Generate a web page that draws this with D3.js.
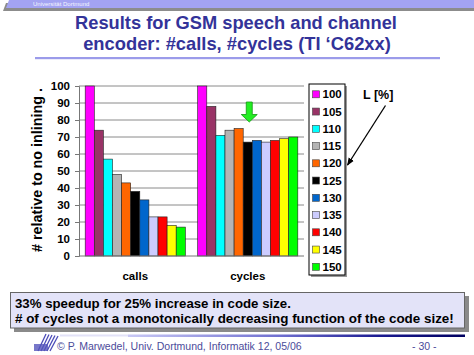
<!DOCTYPE html>
<html><head><meta charset="utf-8">
<script src="https://cdn.jsdelivr.net/npm/d3@7"></script>
<style>body{margin:0;background:#fff}svg{display:block}text{font-family:"Liberation Sans",Arial,sans-serif}</style>
</head><body>
<script>
const categories = ["calls", "cycles"];
const levels = ["100","105","110","115","120","125","130","135","140","145","150"];
const callsValues = [100, 74, 57, 48, 43, 38, 33, 23, 23, 18, 17];
const cyclesValues = [100, 88, 71, 74, 75, 67, 68, 67, 68, 69, 70];
const colors = ["#ff00ff","#993366","#00ffff","#b4b4b4","#ff6600","#000000","#0066cc","#ccccff","#ff0000","#ffff00","#00ff00"];
const yTicks = [0,10,20,30,40,50,60,70,80,90,100];
const titleLines = ["Results for GSM speech and channel", "encoder: #calls, #cycles (TI \u2018C62xx)"];
const noteLines = ["33% speedup for 25% increase in code size.", "# of cycles not a monotonically decreasing function of the code size!"];

const W = 474, H = 355;
const svg = d3.select("body").append("svg").attr("width", W).attr("height", H);

function fit(sel, target) {
  const w = sel.node().getComputedTextLength();
  const fs = parseFloat(sel.attr("font-size"));
  sel.attr("font-size", fs * target / w);
}

// header bar
svg.append("path").attr("d","M6,3 L474,3 L474,11 L3,11 Z").attr("fill","#8c8c8c");
svg.append("path").attr("d","M9,0 L474,0 L474,8 L6,8 Z").attr("fill","#a3a3f2");
svg.append("text").attr("x",33).attr("y",6.3).attr("font-size",6).attr("fill","#f4f4ff").text("Universit\u00e4t Dortmund");

// title
const t1 = svg.append("text").attr("x",236).attr("y",28.5).attr("text-anchor","middle").attr("font-size",19).attr("font-weight","bold").attr("fill","#333399").text(titleLines[0]);
fit(t1, 322);
const t2 = svg.append("text").attr("x",237).attr("y",49.5).attr("text-anchor","middle").attr("font-size",19).attr("font-weight","bold").attr("fill","#333399").text(titleLines[1]);
fit(t2, 308);
svg.append("rect").attr("x",35).attr("y",57).attr("width",405).attr("height",2.2).attr("fill","#9b9bea");

// chart
const plotL = 79, plotR = 304;
const y = d3.scaleLinear().domain([0,100]).range([256,86]);
const x0 = d3.scaleBand().domain(categories).range([plotL, plotR]);
const x1 = d3.scaleBand().domain(levels).range([0, x0.bandwidth()]).paddingOuter(0.68);

const g = svg.append("g");
g.selectAll("line.grid").data(yTicks.slice(1)).join("line")
  .attr("x1", plotL).attr("x2", plotR).attr("y1", d=>y(d)).attr("y2", d=>y(d))
  .attr("stroke","#8a8a8a").attr("stroke-width",1);

const series = [callsValues, cyclesValues];
categories.forEach((c, ci) => {
  g.append("g").attr("transform", `translate(${x0(c)},0)`)
    .selectAll("rect").data(levels).join("rect")
    .attr("x", l => x1(l)).attr("width", x1.bandwidth())
    .attr("y", (l,i) => y(series[ci][i])).attr("height", (l,i) => y(0) - y(series[ci][i]))
    .attr("fill", (l,i) => colors[i]).attr("stroke","#222").attr("stroke-width",0.6);
});

// axes
const yAxis = d3.axisLeft(y).tickValues(yTicks).tickSize(4).tickPadding(5);
const ya = svg.append("g").attr("transform",`translate(${plotL},0)`).call(yAxis);
ya.select(".domain").attr("stroke","#777");
ya.selectAll(".tick line").attr("stroke","#777");
ya.selectAll("text").attr("font-size",11.5).attr("font-weight","bold").attr("fill","#000").attr("font-family","Liberation Sans, Arial, sans-serif");
svg.append("line").attr("x1",plotL).attr("x2",plotR).attr("y1",y(0)).attr("y2",y(0)).attr("stroke","#777");

const xAxis = d3.axisBottom(x0).tickSize(0).tickPadding(15.5);
const xa = svg.append("g").attr("transform",`translate(0,${y(0)})`).call(xAxis);
xa.select(".domain").remove();
xa.selectAll("text").attr("font-size",11.5).attr("font-weight","bold").attr("fill","#000").attr("font-family","Liberation Sans, Arial, sans-serif");

const yt = svg.append("text").attr("transform","translate(41.5,170) rotate(-90)").attr("text-anchor","middle")
  .attr("font-size",12.5).attr("font-weight","bold").text("# relative to no inlining .");
fit(yt, 164);

// green arrow
const ax = x0("cycles") + x1("125") + x1.bandwidth()/2 + 1.5;
svg.append("path").attr("d", `M${ax-3},102 L${ax+3},102 L${ax+3},114.5 L${ax+8},114.5 L${ax},122 L${ax-8},114.5 L${ax-3},114.5 Z`)
  .attr("fill","#22ee22").attr("stroke","#119911").attr("stroke-width",0.8);

// legend
const lg = svg.append("g");
lg.append("rect").attr("x",311).attr("y",86).attr("width",36).attr("height",191).attr("fill","#999");
lg.append("rect").attr("x",309).attr("y",84).attr("width",36).attr("height",191).attr("fill","#fff").attr("stroke","#000").attr("stroke-width",1);
const ly = d3.scalePoint().domain(levels).range([94.3, 266.8]);
lg.selectAll("rect.sw").data(levels).join("rect").attr("class","sw")
  .attr("x",312.5).attr("y",l=>ly(l)-3.5).attr("width",7).attr("height",7)
  .attr("fill",(l,i)=>colors[i]).attr("stroke","#444").attr("stroke-width",0.6);
lg.selectAll("text").data(levels).join("text")
  .attr("x",322.5).attr("y",l=>ly(l)+4).attr("font-size",11.5).attr("font-weight","bold").text(l=>l);

// L [%] label + arrow
svg.append("text").attr("x",363).attr("y",98.5).attr("font-size",12.5).attr("font-weight","bold").text("L [%]");
svg.append("defs").append("marker").attr("id","ah").attr("viewBox","0 0 10 10").attr("refX",9).attr("refY",5)
  .attr("markerWidth",6).attr("markerHeight",6).attr("orient","auto")
  .append("path").attr("d","M0,1 L10,5 L0,9 Z").attr("fill","#000");
svg.append("line").attr("x1",385.5).attr("y1",105.5).attr("x2",347.5).attr("y2",165).attr("stroke","#000").attr("stroke-width",1.3).attr("marker-end","url(#ah)");

// note box
svg.append("rect").attr("x",14).attr("y",296).attr("width",455).attr("height",36).attr("fill","#8a8a8a");
svg.append("rect").attr("x",10.5).attr("y",292.5).attr("width",454).attr("height",35.5).attr("fill","#e3e3f8").attr("stroke","#666").attr("stroke-width",1);
const n1 = svg.append("text").attr("x",15).attr("y",307.5).attr("font-size",13).attr("font-weight","bold").text(noteLines[0]);
fit(n1, 276);
const n2 = svg.append("text").attr("x",15).attr("y",323).attr("font-size",13).attr("font-weight","bold").text(noteLines[1]);
fit(n2, 439);

// footer
const grad = svg.append("defs").append("linearGradient").attr("id","fg").attr("x1","0").attr("x2","1");
grad.append("stop").attr("offset","0").attr("stop-color","#c8c8f5");
grad.append("stop").attr("offset","0.45").attr("stop-color","#6f6fd0");
grad.append("stop").attr("offset","0.75").attr("stop-color","#1a1a90");
grad.append("stop").attr("offset","1").attr("stop-color","#000060");
svg.append("rect").attr("x",128).attr("y",334.5).attr("width",337).attr("height",2.5).attr("fill","url(#fg)");
svg.append("rect").attr("x",60).attr("y",334.5).attr("width",68).attr("height",2).attr("fill","#e2e2f8");
const logo = svg.append("g");
[0,1,2,3,4].forEach(i => logo.append("line").attr("x1",38+i*3).attr("y1",351).attr("x2",46+i*3).attr("y2",334+i*0.5).attr("stroke","#4a4ab8").attr("stroke-width",1.3));
logo.append("rect").attr("x",34).attr("y",344).attr("width",14).attr("height",7).attr("fill","#5555bb").attr("opacity",0.8);
const ft = svg.append("text").attr("x",57).attr("y",349.5).attr("font-size",10.5).attr("fill","#4b4b9a").text("\u00a9 P. Marwedel, Univ. Dortmund, Informatik 12, 05/06");
fit(ft, 245);
svg.append("text").attr("x",412).attr("y",349.5).attr("font-size",10.5).attr("fill","#4b4b9a").text("- 30 -");
</script>
</body></html>
